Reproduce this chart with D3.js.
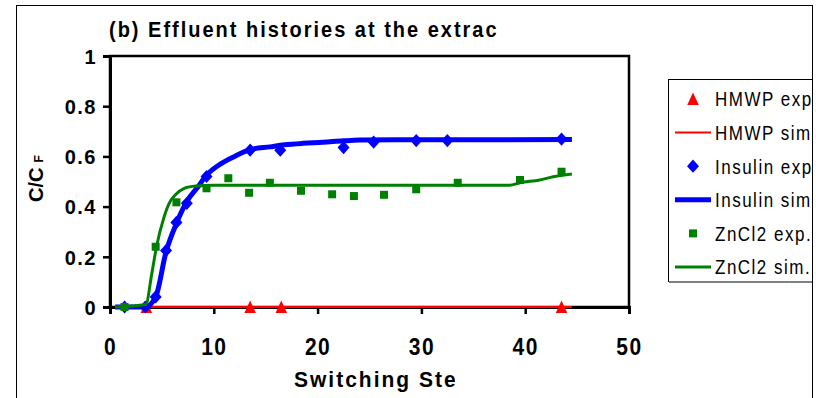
<!DOCTYPE html>
<html>
<head>
<meta charset="utf-8">
<script src="https://cdn.jsdelivr.net/npm/d3@7"></script>
<style>
  body { margin: 0; background: #fff; }
  svg { display: block; }
  text { font-family: Arial, "Liberation Sans", sans-serif; fill: #000; }
</style>
</head>
<body>
<div id="chart"></div>
<script>
// tick values
let xTicks = [0, 10, 20, 30, 40, 50];
let yTicks = [0, 0.2, 0.4, 0.6, 0.8, 1];

// experimental points (switching step, C/CF)
let hmwpExpX = [3.5, 13.5, 16.5, 43.5];
let hmwpExpY = [0, 0, 0, 0];
let insulinExpX = [1.4, 3.4, 4.4, 5.4, 6.4, 7.4, 9.3, 13.5, 16.4, 22.5, 25.4, 29.5, 32.5, 43.5];
let insulinExpY = [0, 0, 0.04, 0.225, 0.337, 0.413, 0.52, 0.625, 0.625, 0.635, 0.657, 0.663, 0.663, 0.669];
let zincExpX = [1.4, 4.4, 6.4, 9.3, 11.4, 13.4, 15.4, 18.4, 21.4, 23.5, 26.4, 29.5, 33.5, 39.5, 43.5];
let zincExpY = [0, 0.24, 0.417, 0.473, 0.513, 0.455, 0.495, 0.463, 0.449, 0.442, 0.447, 0.469, 0.495, 0.506, 0.539];

// simulated curves
let hmwpSimX = [0.5, 44.5];
let hmwpSimY = [0, 0];
let insulinSimX = [0.5, 3.4, 4.4, 5.4, 6.4, 7.4, 8.5, 9.3, 10.5, 12, 13.5, 15.4, 16.8, 18.6, 20.5, 22.5, 24, 28, 44.5];
let insulinSimY = [0, 0, 0.04, 0.22, 0.333, 0.42, 0.48, 0.525, 0.566, 0.6, 0.627, 0.638, 0.646, 0.652, 0.656, 0.662, 0.665, 0.666, 0.667];
let zincSimX = [0.5, 3.45, 4.03, 4.48, 5.22, 5.7, 6.28, 7.15, 8.28, 10, 38.5, 39.5, 41.4, 42.7, 44.5];
let zincSimY = [0, 0.01, 0.134, 0.24, 0.36, 0.413, 0.446, 0.473, 0.482, 0.485, 0.485, 0.495, 0.506, 0.519, 0.53];

let legendNames = ["HMWP exp.", "HMWP sim.", "Insulin exp.", "Insulin sim.", "ZnCl2 exp.", "ZnCl2 sim."];

const W = 816, H = 398;
const plot = { left: 110, right: 629, top: 56, bottom: 307 };

let x = d3.scaleLinear().domain([0, 50]).range([plot.left, plot.right]);
let y = d3.scaleLinear().domain([0, 1]).range([plot.bottom, plot.top]);

let svg = d3.select("#chart").append("svg")
  .attr("width", W)
  .attr("height", H);

let defs = svg.append("defs");
defs.append("clipPath").attr("id", "frameClip")
  .append("rect").attr("x", 17).attr("y", 6).attr("width", 795).attr("height", 400);
defs.append("clipPath").attr("id", "titleClip")
  .append("rect").attr("x", 0).attr("y", 0).attr("width", 497).attr("height", 50);
defs.append("clipPath").attr("id", "xTitleClip")
  .append("rect").attr("x", 0).attr("y", 360).attr("width", 455).attr("height", 38);

// outer chart frame
svg.append("rect")
  .attr("x", 16.5).attr("y", 5.5)
  .attr("width", 796).attr("height", 420)
  .attr("fill", "none").attr("stroke", "#000").attr("stroke-width", 1);

// title (text is a bit stretched vertically in the original)
svg.append("g").attr("clip-path", "url(#titleClip)")
  .append("text")
  .attr("transform", "translate(109,37) scale(1,1.08)")
  .attr("font-size", 20).attr("font-weight", "bold")
  .attr("letter-spacing", 2)
  .text("(b) Effluent histories at the extract port");

// plot area border
svg.append("rect")
  .attr("x", plot.left).attr("y", plot.top)
  .attr("width", plot.right - plot.left).attr("height", plot.bottom - plot.top)
  .attr("fill", "none").attr("stroke", "#000").attr("stroke-width", 2.5);

// axes
let yAxis = d3.axisLeft(y).tickValues(yTicks).tickSize(7).tickFormat(d3.format("~g"));
let xAxis = d3.axisBottom(x).tickValues(xTicks).tickSize(7).tickFormat(d3.format("d"));

let gy = svg.append("g").attr("transform", `translate(${plot.left},0)`).call(yAxis);
let gx = svg.append("g").attr("transform", `translate(0,${plot.bottom})`).call(xAxis);

[gx, gy].forEach(g => {
  g.select(".domain").attr("stroke", "#000").attr("stroke-width", 3);
  g.selectAll(".tick line").attr("stroke", "#000").attr("stroke-width", 2.5);
  g.selectAll(".tick text")
    .attr("font-family", "Arial, 'Liberation Sans', sans-serif")
    .attr("font-weight", "bold")
    .attr("fill", "#000")
    .attr("letter-spacing", 1.5);
});
gy.selectAll(".tick text").attr("font-size", 20).attr("x", -13).attr("dy", "0.36em");
gx.selectAll(".tick text").attr("font-size", 21)
  .attr("transform", "scale(1,1.1)")
  .attr("y", 48 / 1.1).attr("dy", 0);

// axis titles
svg.append("g").attr("clip-path", "url(#xTitleClip)")
  .append("text")
  .attr("transform", "translate(294,387) scale(1,1.08)")
  .attr("font-size", 21).attr("font-weight", "bold")
  .attr("letter-spacing", 2)
  .text("Switching Steps");

let yTitle = svg.append("text")
  .attr("transform", "translate(43,202) rotate(-90)")
  .attr("font-size", 20).attr("font-weight", "bold");
yTitle.append("tspan").text("C/C");
yTitle.append("tspan").attr("dx", 5).attr("font-size", 12).text("F");

// marker shapes
function triangle(s) { return `M0,${-s * 0.55}L${s * 0.48},${s * 0.5}L${-s * 0.48},${s * 0.5}Z`; }
function diamond(s) { return `M0,${-s * 0.55}L${s * 0.5},0L0,${s * 0.55}L${-s * 0.5},0Z`; }
function square(s) { return `M${-s / 2},${-s / 2}h${s}v${s}h${-s}Z`; }

let line = d3.line().x(d => x(d[0])).y(d => y(d[1])).curve(d3.curveMonotoneX);
let zipPts = (xs, ys) => xs.map((v, i) => [v, ys[i]]);

let series = [
  { kind: "pts", xs: hmwpExpX, ys: hmwpExpY, color: "#ff0000", shape: triangle, size: 12 },
  { kind: "line", xs: hmwpSimX, ys: hmwpSimY, color: "#ff0000", width: 2 },
  { kind: "pts", xs: insulinExpX, ys: insulinExpY, color: "#0000ff", shape: diamond, size: 12 },
  { kind: "line", xs: insulinSimX, ys: insulinSimY, color: "#0000ff", width: 5 },
  { kind: "pts", xs: zincExpX, ys: zincExpY, color: "#008000", shape: square, size: 8 },
  { kind: "line", xs: zincSimX, ys: zincSimY, color: "#008000", width: 3 }
];

series.forEach(s => {
  let pts = zipPts(s.xs, s.ys);
  if (s.kind === "line") {
    svg.append("path")
      .attr("d", line(pts))
      .attr("fill", "none")
      .attr("stroke", s.color)
      .attr("stroke-width", s.width)
      .attr("stroke-linejoin", "round");
  } else {
    svg.append("g").selectAll("path")
      .data(pts).enter()
      .append("path")
      .attr("transform", d => `translate(${x(d[0])},${y(d[1])})`)
      .attr("d", s.shape(s.size))
      .attr("fill", s.color);
  }
});

// legend (clipped by the chart frame on the right, as in the original)
let legend = svg.append("g").attr("clip-path", "url(#frameClip)");
legend.append("rect")
  .attr("x", 668.5).attr("y", 79.5)
  .attr("width", 200).attr("height", 202)
  .attr("fill", "#fff").attr("stroke", "#000").attr("stroke-width", 1);
legend.append("line")
  .attr("x1", 669).attr("x2", 870).attr("y1", 282).attr("y2", 282)
  .attr("stroke", "#808080").attr("stroke-width", 2);

let ly = d3.scaleLinear().domain([0, 5]).range([99, 267]);
legendNames.forEach((name, i) => {
  let s = series[i];
  let cy = ly(i);
  if (s.kind === "line") {
    legend.append("line")
      .attr("x1", 675).attr("x2", 711).attr("y1", cy).attr("y2", cy)
      .attr("stroke", s.color).attr("stroke-width", s.width);
  } else {
    legend.append("path")
      .attr("transform", `translate(693,${cy})`)
      .attr("d", s.shape(s.size))
      .attr("fill", s.color);
  }
  legend.append("text")
    .attr("transform", `translate(715,${cy + 7.3}) scale(1,1.2)`)
    .attr("font-size", 17)
    .attr("letter-spacing", 1.5)
    .text(name);
});
</script>
</body>
</html>
